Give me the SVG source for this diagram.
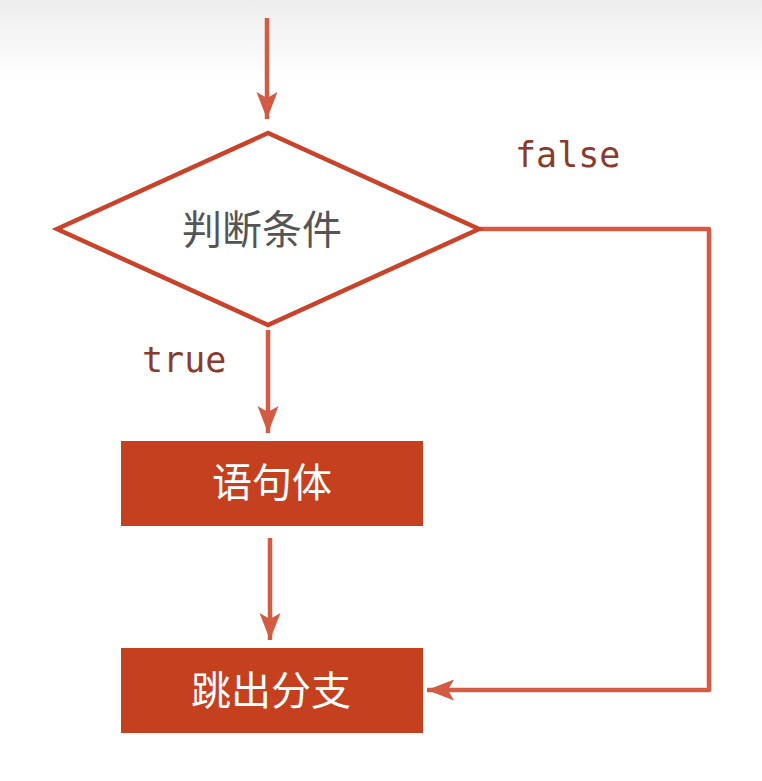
<svg xmlns="http://www.w3.org/2000/svg" width="762" height="781" viewBox="0 0 762 781">
<defs>
<linearGradient id="bg" x1="0" y1="0" x2="0" y2="1">
<stop offset="0" stop-color="#ededed"/>
<stop offset="1" stop-color="#ffffff"/>
</linearGradient>
<marker id="arr" markerUnits="userSpaceOnUse" markerWidth="30" markerHeight="24" viewBox="-28 -12 30 24" refX="0" refY="0" orient="auto">
<path d="M0,0 L-27,-10.5 L-21,0 L-27,10.5 Z" fill="#d35a43"/>
</marker>
<style>
.conn{fill:none;stroke:#d35a43;stroke-width:4.5;stroke-linejoin:round}
.lbl{font-family:"DejaVu Sans Mono","Liberation Mono",monospace;font-size:35px;fill:#8a3b2e}
.cjk{font-family:"Noto Sans CJK SC","Noto Sans",sans-serif;font-size:40px;text-anchor:middle}
.box{fill:#c4401f}
</style>
</defs>
<rect x="0" y="0" width="762" height="781" fill="#ffffff"/>
<rect x="0" y="0" width="762" height="80" fill="url(#bg)"/>
<g id="connectors">
<line class="conn" x1="267" y1="18" x2="267" y2="119" marker-end="url(#arr)"/>
<line class="conn" x1="268" y1="330" x2="268" y2="433" marker-end="url(#arr)"/>
<line class="conn" x1="270" y1="538" x2="270" y2="640" marker-end="url(#arr)"/>
<polyline class="conn" points="480,229 709,229 709,690 427,690" marker-end="url(#arr)"/>
</g>
<g id="decision">
<polygon points="268,133 57,229 268,325 479,229" fill="#ffffff" stroke="#c8432a" stroke-width="4.5" stroke-linejoin="miter"/>
<text class="cjk" x="262" y="244" fill="#555555">判断条件</text>
</g>
<g id="body">
<rect class="box" x="121" y="441" width="302" height="85"/>
<text class="cjk" x="272" y="497" fill="#ffffff">语句体</text>
</g>
<g id="exit">
<rect class="box" x="121" y="648" width="302" height="85"/>
<text class="cjk" x="271" y="705" fill="#ffffff">跳出分支</text>
</g>
<text class="lbl" x="142" y="372">true</text>
<text class="lbl" x="515" y="167">false</text>
</svg>
